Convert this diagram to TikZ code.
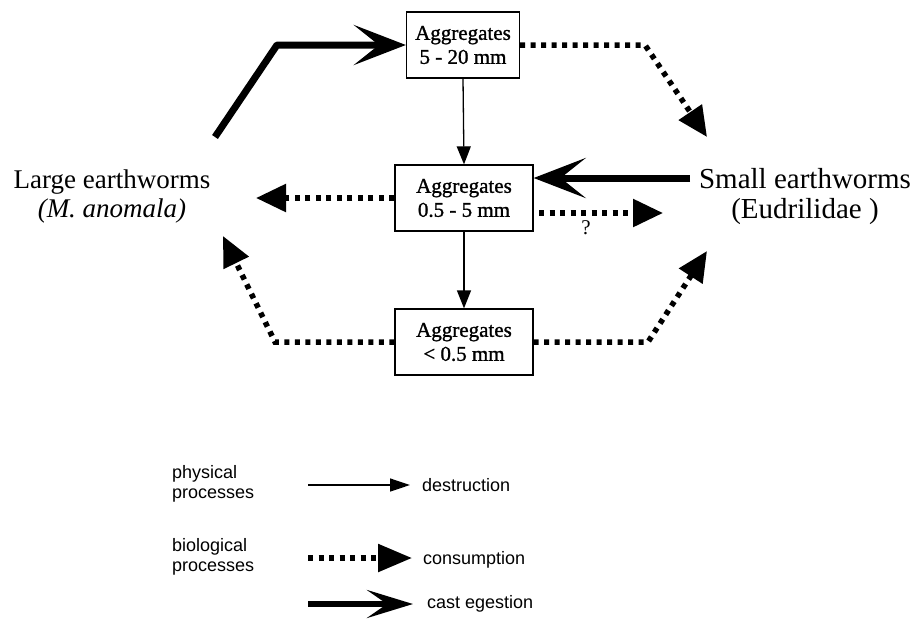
\documentclass[tikz,border=0pt]{standalone}
\usepackage{fontspec}
\setmainfont{Liberation Serif}
\newfontfamily\boxfont[FakeBold=1.2]{Liberation Serif}
\newfontfamily\legendfont{Liberation Sans}
\usetikzlibrary{arrows.meta}
\begin{document}
\begin{tikzpicture}[x=1pt,y=-1pt,
  box/.style={draw, line width=1.3pt, minimum width=138pt, minimum height=66pt, align=center, font=\boxfont\fontsize{21}{24}\selectfont, inner sep=2pt},
  worm/.style={align=center, font=\fontsize{27}{29}\selectfont},
  phys/.style={line width=1.3pt, -{Triangle[length=18pt,width=14pt]}},
  cons/.style={line width=5.5pt, dash pattern=on 5pt off 5.5pt, -{Triangle[length=30pt,width=27pt]}},
  cast/.style={line width=7pt, line join=round, -{Stealth[length=52pt,width=40pt,inset=25pt]}},
  lphys/.style={line width=1.3pt, -{Triangle[length=20pt,width=13pt]}},
  lcons/.style={line width=5.5pt, dash pattern=on 5pt off 5.5pt, -{Triangle[length=34pt,width=27pt]}},
  lcast/.style={line width=6pt, -{Stealth[length=46pt,width=28pt,inset=20pt]}},
  leg/.style={font=\legendfont\fontsize{18}{20}\selectfont, anchor=west, align=left, inner sep=0pt},
]
\useasboundingbox (0,0) rectangle (921,622);
% boxes
\node[box, minimum width=113pt] (b1) at (463,45) {Aggregates\\5 - 20 mm};
\node[box] (b2) at (464,198) {Aggregates\\0.5 - 5 mm};
\node[box] (b3) at (464,342) {Aggregates\\< 0.5 mm};
% worm labels
\node[worm] (L) at (112,197) {Large earthworms\\\textit{(M. anomala)}};
\node[worm, font=\fontsize{29}{30}\selectfont] (S) at (805,197) {Small earthworms\\(Eudrilidae )};
% physical destruction
\draw[phys] (b1.south) -- (b2.north);
\draw[phys] (b2.south) -- (b3.north);
% cast egestion
\coordinate (s1) at (215,137);
\coordinate (c1) at (277,45);
\draw[cast] (s1) -- (c1) -- (b1.west);
\coordinate (s3) at (690,178);
\draw[cast] (s3) -- (s3 -| b2.east);
% consumption
\coordinate (c2) at (645,45);
\coordinate (t2) at (707,137);
\draw[cons] (b1.east) -- (c2) -- (t2);
\coordinate (t4) at (256,198);
\draw[cons] (b2.west) -- (t4);
\coordinate (s5) at (539,213);
\coordinate (t5) at (663,213);
\draw[cons] (s5) -- (t5);
\node[font=\fontsize{21}{24}\selectfont] (q) at (586,228) {?};
\coordinate (c6) at (275,342);
\coordinate (t6) at (223,236);
\draw[cons] (b3.west) -- (c6) -- (t6);
\coordinate (c7) at (648,342);
\coordinate (t7) at (707,251);
\draw[cons] (b3.east) -- (c7) -- (t7);
% legend
\node[leg] (p1) at (172,484) {physical\\processes};
\coordinate (d0) at (308,485);
\coordinate (d1) at (410,485);
\draw[lphys] (d0) -- (d1);
\node[leg] (dt) at (422,485) {destruction};
\node[leg] (p2) at (172,557) {biological\\processes};
\coordinate (e0) at (308,558);
\coordinate (e1) at (412,558);
\draw[lcons] (e0) -- (e1);
\node[leg] (ct) at (423,560) {consumption};
\coordinate (f0) at (308,604);
\coordinate (f1) at (413,604);
\draw[lcast] (f0) -- (f1);
\node[leg] (ce) at (427,604) {cast egestion};
\end{tikzpicture}
\end{document}
